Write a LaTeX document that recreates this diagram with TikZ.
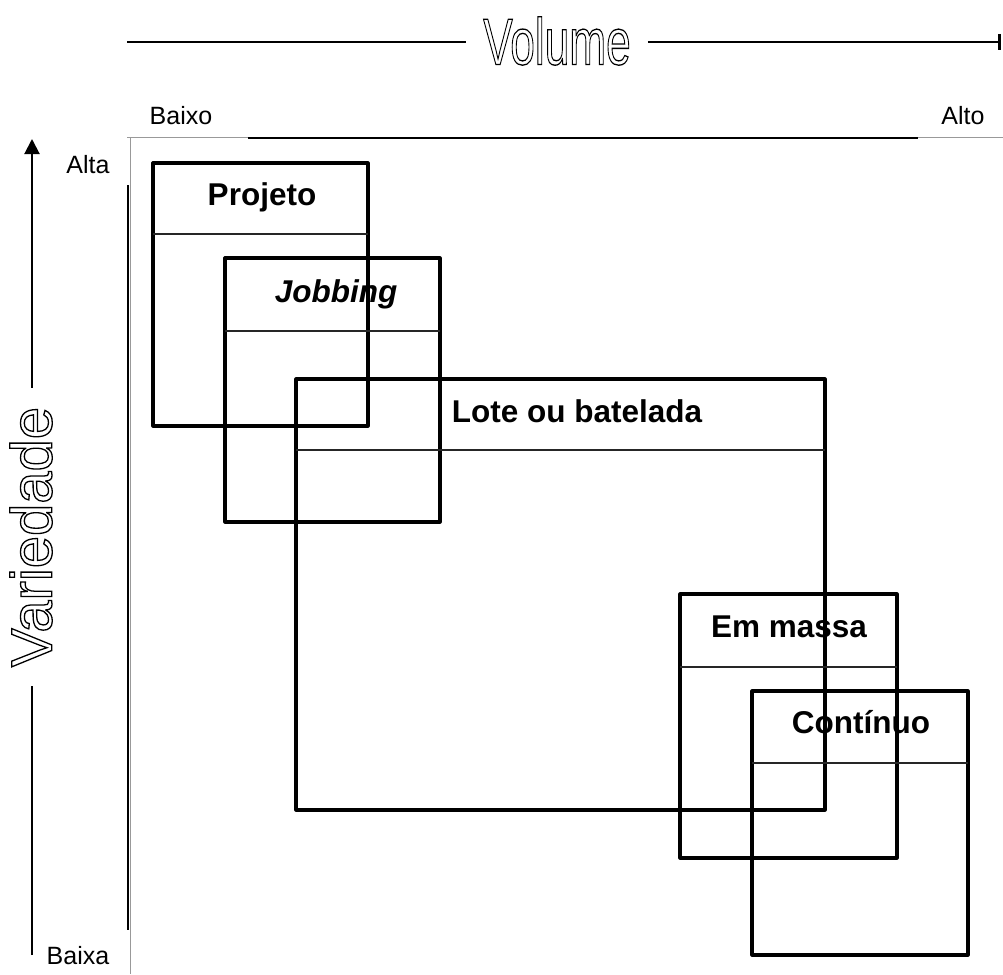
\documentclass[tikz,border=0pt]{standalone}
\usepackage{fontspec}
\setmainfont{Liberation Sans}
\usetikzlibrary{arrows.meta}
\newcommand\hollowtext[1]{\special{pdf:code q 1 Tr 1.3 w}#1\special{pdf:code Q}}
\begin{document}
\begin{tikzpicture}[x=1pt,y=-1pt,
  box/.style={draw, line width=3.2pt, line join=round, inner sep=0pt, outer sep=0pt, anchor=north west},
  divider/.style={line width=1.5pt, draw=black!85},
  boxlabel/.style={font=\fontsize{31.5}{36}\selectfont\bfseries, anchor=base, inner sep=0pt},
  axislabel/.style={font=\fontsize{25}{30}\selectfont, anchor=base, inner sep=0pt},
  framel/.style={draw=black!40, line width=1pt},
  axisline/.style={line width=2pt},
  outlined/.style={inner ysep=0pt}]

\useasboundingbox (0,0) rectangle (1003,974);
\fill[white] (0,0) rectangle (1003,974);

% light frame
\draw[framel] (127,137.5) -- (1003,137.5);
\draw[framel] (130,137.5) -- (130,974);

% black frame lines
\coordinate (hl) at (248,137.5);
\coordinate (hr) at (918,137.5);
\draw[axisline] (hl) -- (hr);
\coordinate (vt) at (128,185);
\coordinate (vb) at (128,930);
\draw[axisline] (vt) -- (vb);

% Volume axis
\node[outlined, inner xsep=17pt] (volume) at (557,41)
  {\fontsize{66}{70}\selectfont\scalebox{0.67}[1]{\hollowtext{Volume}}};
\coordinate (volstart) at (127,42);
\coordinate (volend) at (1001,42);
\draw[axisline] (volstart) -- (volstart -| volume.west);
\draw[axisline, -{Bar[width=16pt, line width=3pt]}] (volend -| volume.east) -- (volend);

% Variedade axis
\node[outlined, inner xsep=19pt, rotate=90] (variedade) at (31,537)
  {\fontsize{58}{62}\selectfont\hollowtext{Variedade}};
\coordinate (vartop) at (32,139);
\coordinate (varbot) at (32,955);
\draw[axisline] (varbot) -- (varbot |- variedade.west);
\draw[axisline, -{Triangle[length=15pt, width=15pt]}] (vartop |- variedade.east) -- (vartop);

% axis labels
\node[axislabel] (baixo) at (181,124) {Baixo};
\node[axislabel] (alto) at (963,124) {Alto};
\node[axislabel] (alta) at (88,173) {Alta};
\node[axislabel] (baixa) at (78,964) {Baixa};

% boxes
\node[box, minimum width=215pt, minimum height=263pt] (projeto) at (153,163) {};
\draw[divider] (projeto.west |- 0,234) -- (projeto.east |- 0,234);
\node[boxlabel] (projetol) at (262,205) {Projeto};

\node[box, minimum width=215pt, minimum height=264pt] (jobbing) at (225,258) {};
\draw[divider] (jobbing.west |- 0,331) -- (jobbing.east |- 0,331);
\node[boxlabel, font=\fontsize{31.5}{36}\selectfont\bfseries\itshape] (jobbingl) at (336,302) {Jobbing};

\node[box, minimum width=529pt, minimum height=431pt] (lote) at (296,379) {};
\draw[divider] (lote.west |- 0,450) -- (lote.east |- 0,450);
\node[boxlabel] (lotel) at (577,422) {Lote ou batelada};

\node[box, minimum width=217pt, minimum height=264pt] (massa) at (680,594) {};
\draw[divider] (massa.west |- 0,667) -- (massa.east |- 0,667);
\node[boxlabel] (massal) at (789,637) {Em massa};

\node[box, minimum width=216pt, minimum height=264pt] (continuo) at (752,691) {};
\draw[divider] (continuo.west |- 0,763) -- (continuo.east |- 0,763);
\node[boxlabel] (continuol) at (861,733) {Contínuo};

\end{tikzpicture}
\end{document}
